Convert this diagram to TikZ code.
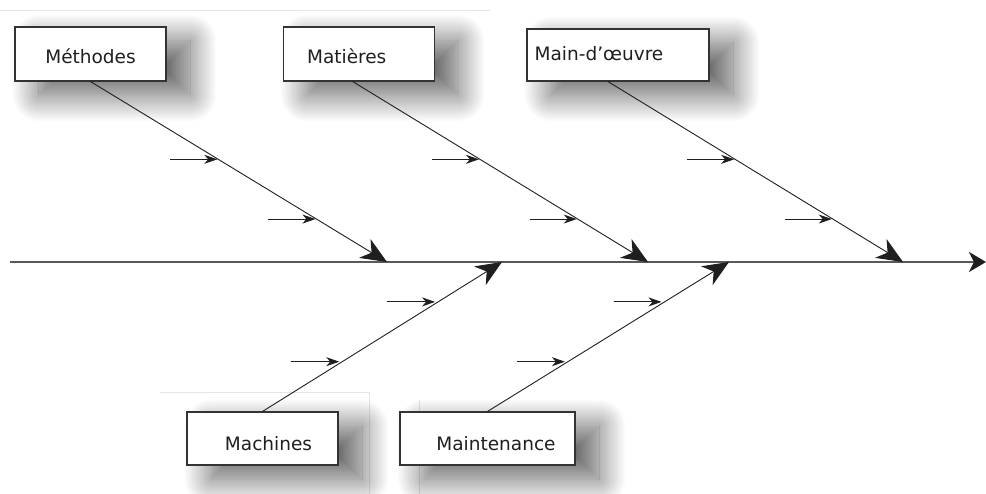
\documentclass[tikz,border=0pt]{standalone}
\usepackage{fontspec}
\setmainfont{DejaVu Sans}
\usetikzlibrary{arrows.meta,shadows.blur,calc}
\begin{document}
\begin{tikzpicture}[x=1pt,y=-1pt,
  cause/.style={draw=black!80, line width=1.1pt, fill=white, inner sep=0pt,
    text depth=0pt, font=\fontsize{18.5}{20}\selectfont, text=black!88,
    blur shadow={shadow xshift=24pt, shadow yshift=-14pt,
      shadow blur radius=27pt, shadow blur steps=30, shadow opacity=62}},
  bone/.style={draw=black!88, line width=0.9pt,
    -{Stealth[length=26pt,width=22pt,inset=8pt]}},
  rib/.style={draw=black!88, line width=0.9pt,
    -{Stealth[length=13pt,width=9pt,inset=4pt]}},
  spine/.style={draw=black!65, line width=2pt,
    -{Stealth[length=17pt,width=20pt,inset=5pt,color=black!88]}},
  ghost/.style={draw=black!10, line width=0.8pt}]
\useasboundingbox (0,0) rectangle (986,494);
% faint frame artefacts
\draw[ghost] (0,10) -- (490,10);
\draw[ghost] (160,392) -- (369,392);
\draw[ghost] (369,392) -- (369,494);
\draw[ghost] (419,400) -- (419,494);

% cause boxes
\node[cause, minimum width=151pt, minimum height=54pt, text height=20pt]
  (meth) at (90.5,54) {Méthodes};
\node[cause, minimum width=151pt, minimum height=54pt, text height=20pt]
  (mati) at (358.7,54) {Matières\hspace*{24pt}};
\node[cause, minimum width=182pt, minimum height=52pt, text height=12pt]
  (main) at (618,55) {Main-d’œuvre\hspace*{38pt}};
\node[cause, minimum width=151pt, minimum height=53pt, text height=23pt]
  (mach) at (262.5,438.5) {\hspace*{12pt}Machines};
\node[cause, minimum width=175pt, minimum height=53pt, text height=23pt]
  (mtn) at (487.5,438.5) {\hspace*{17pt}Maintenance};

% spine
\coordinate (s0) at (10,262);
\coordinate (s1) at (986,262);
\draw[spine] (s0) -- (s1);

% tips of the bones on the spine
\coordinate (t1) at (387,262);
\coordinate (t2) at (648,262);
\coordinate (t3) at (903,262);
\coordinate (b1) at (502,262);
\coordinate (b2) at (729,262);

% bone start points
\coordinate (m1) at (meth.south);
\coordinate (m2) at ([xshift=-6pt]mati.south);
\coordinate (m3) at ([xshift=-10pt]main.south);
\coordinate (m4) at (mach.north);
\coordinate (m5) at (mtn.north);

\draw[bone] (m1) -- (t1);
\draw[bone] (m2) -- (t2);
\draw[bone] (m3) -- (t3);
\draw[bone] (m4) -- (b1);
\draw[bone] (m5) -- (b2);

% ribs on the upper bones
\foreach \s/\t/\n in {m1/t1/a, m2/t2/b, m3/t3/c}{
  \foreach \f/\k in {0.431/1, 0.762/2}{
    \coordinate (r\n\k) at ($(\s)!\f!(\t)$);
    \coordinate (q\n\k) at ($(r\n\k)+(-48,0)$);
    \coordinate (p\n\k) at ($(r\n\k)+(-1,0)$);
    \draw[rib] (q\n\k) -- (p\n\k);
  }
}
% ribs on the lower bones
\foreach \s/\t/\n in {m4/b1/d, m5/b2/e}{
  \foreach \f/\k in {0.733/1, 0.333/2}{
    \coordinate (r\n\k) at ($(\s)!\f!(\t)$);
    \coordinate (q\n\k) at ($(r\n\k)+(-51,0)$);
    \coordinate (p\n\k) at ($(r\n\k)+(-3,0)$);
    \draw[rib] (q\n\k) -- (p\n\k);
  }
}
\end{tikzpicture}
\end{document}
